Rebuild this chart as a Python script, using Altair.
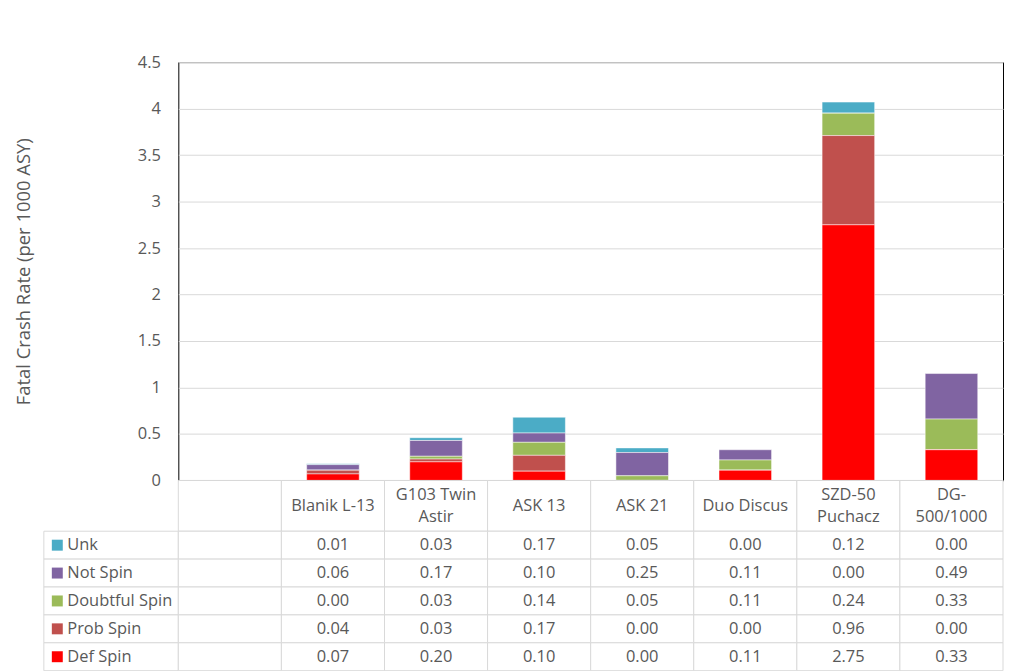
import altair as alt
import pandas as pd

# ---- data ----
categories = [" ", "Blanik L-13", "G103 Twin Astir", "ASK 13", "ASK 21",
              "Duo Discus", "SZD-50 Puchacz", "DG-500/1000"]
header_line1 = ["", "Blanik L-13", "G103 Twin", "ASK 13", "ASK 21",
                "Duo Discus", "SZD-50", "DG-"]
header_line2 = ["", "", "Astir", "", "", "", "Puchacz", "500/1000"]
series = ["Unk", "Not Spin", "Doubtful Spin", "Prob Spin", "Def Spin"]
colors = ["#4BACC6", "#8064A2", "#9BBB59", "#C0504D", "#FF0000"]

unk = [0.01, 0.03, 0.17, 0.05, 0.00, 0.12, 0.00]
not_spin = [0.06, 0.17, 0.10, 0.25, 0.11, 0.00, 0.49]
doubtful_spin = [0.00, 0.03, 0.14, 0.05, 0.11, 0.24, 0.33]
prob_spin = [0.04, 0.03, 0.17, 0.00, 0.00, 0.96, 0.00]
def_spin = [0.07, 0.20, 0.10, 0.00, 0.11, 2.75, 0.33]

y_ticks = [0, 0.5, 1, 1.5, 2, 2.5, 3, 3.5, 4, 4.5]

series_values = {"Unk": unk, "Not Spin": not_spin, "Doubtful Spin": doubtful_spin,
                 "Prob Spin": prob_spin, "Def Spin": def_spin}

rows = []
for i, s in enumerate(series):
    for c, v in zip(categories[1:], series_values[s]):
        rows.append({"cat": c, "series": s, "value": v, "stack": len(series) - 1 - i})
df = pd.DataFrame(rows)

grid_df = pd.DataFrame([{"cat": c, "series": s} for s in series for c in categories])
hdr_df = pd.DataFrame({"cat": categories, "l1": header_line1, "l2": header_line2})
hdr_df["two"] = hdr_df["l2"] != ""
keys_df = pd.DataFrame({"series": series})

TXT = "#595959"
LINE = "#d9d9d9"
FS = 16.5

color_scale = alt.Scale(domain=series, range=colors)

# ---- bar chart ----
bars = alt.Chart(df).mark_bar(stroke="white", strokeWidth=0.5).encode(
    x=alt.X("cat:N", scale=alt.Scale(domain=categories, paddingInner=0.49, paddingOuter=0.245), axis=None),
    y=alt.Y("value:Q", stack="zero",
            scale=alt.Scale(domain=[0, 4.5], nice=False),
            axis=alt.Axis(values=y_ticks, format=".1~f", title="Fatal Crash Rate (per 1000 ASY)",
                          grid=True, gridColor=LINE, domain=False, ticks=False, tickSize=0,
                          labelPadding=18, labelFontSize=FS, labelColor=TXT,
                          titleFontSize=18.5, titleFontWeight="normal", titleColor=TXT,
                          titlePadding=104)),
    color=alt.Color("series:N", scale=color_scale, legend=None),
    order=alt.Order("stack:Q", sort="ascending"),
).properties(width=828, height=420,
             view=alt.ViewBackground(stroke="black", strokeWidth=1))

# ---- header row of the data table ----
hx = alt.Scale(domain=categories, paddingInner=0, paddingOuter=0)
hdr_base = alt.Chart(hdr_df)
hdr_rect = hdr_base.mark_rect(fill="white", stroke=LINE, strokeWidth=1).encode(
    x=alt.X("cat:N", scale=hx, axis=None))
hdr_single = hdr_base.transform_filter("!datum.two").mark_text(fontSize=FS, color=TXT).encode(
    x=alt.X("cat:N", scale=hx, axis=None), text="l1:N")
hdr_top = hdr_base.transform_filter("datum.two").mark_text(fontSize=FS, color=TXT, dy=-11).encode(
    x=alt.X("cat:N", scale=hx, axis=None), text="l1:N")
hdr_bot = hdr_base.transform_filter("datum.two").mark_text(fontSize=FS, color=TXT, dy=11).encode(
    x=alt.X("cat:N", scale=hx, axis=None), text="l2:N")
header = alt.layer(hdr_rect, hdr_single, hdr_top, hdr_bot).properties(width=828, height=51)

# ---- values grid ----
ys = alt.Scale(domain=series, paddingInner=0, paddingOuter=0)
grid_rect = alt.Chart(grid_df).mark_rect(fill="white", stroke=LINE, strokeWidth=1).encode(
    x=alt.X("cat:N", scale=hx, axis=None),
    y=alt.Y("series:N", scale=ys, axis=None))
grid_text = alt.Chart(df).mark_text(fontSize=FS, color=TXT).encode(
    x=alt.X("cat:N", scale=hx, axis=None),
    y=alt.Y("series:N", scale=ys, axis=None),
    text=alt.Text("value:Q", format=".2f"))
values_chart = alt.layer(grid_rect, grid_text).properties(width=828, height=140)

# ---- row header (legend keys) ----
rh_rect = alt.Chart(keys_df).mark_rect(fill="white", stroke=LINE, strokeWidth=1).encode(
    y=alt.Y("series:N", scale=ys, axis=None))
rh_sq = alt.Chart(keys_df).mark_point(shape="square", filled=True, size=121, opacity=1).encode(
    x=alt.value(13.5),
    y=alt.Y("series:N", scale=ys, axis=None),
    color=alt.Color("series:N", scale=color_scale, legend=None))
rh_txt = alt.Chart(keys_df).mark_text(align="left", fontSize=FS, color=TXT).encode(
    x=alt.value(23.5),
    y=alt.Y("series:N", scale=ys, axis=None),
    text="series:N")
rowhdr = alt.layer(rh_rect, rh_sq, rh_txt).properties(width=135, height=140)


def spacer(h):
    return alt.Chart(pd.DataFrame({"a": [0]})).mark_point(opacity=0).encode(
        x=alt.value(0), y=alt.value(0)).properties(width=135, height=h)


chart = alt.concat(
    spacer(420), bars,
    spacer(51), header,
    rowhdr, values_chart,
    columns=2, spacing=0, bounds="flush",
).resolve_scale(
    x="independent", y="independent", color="shared"
).properties(
    padding={"left": 6, "top": 44, "right": 0, "bottom": 0}
).configure(
    font="Open Sans", background="white"
).configure_view(stroke=None)

chart.save("out.html", embed_options={"renderer": "svg", "actions": False})
